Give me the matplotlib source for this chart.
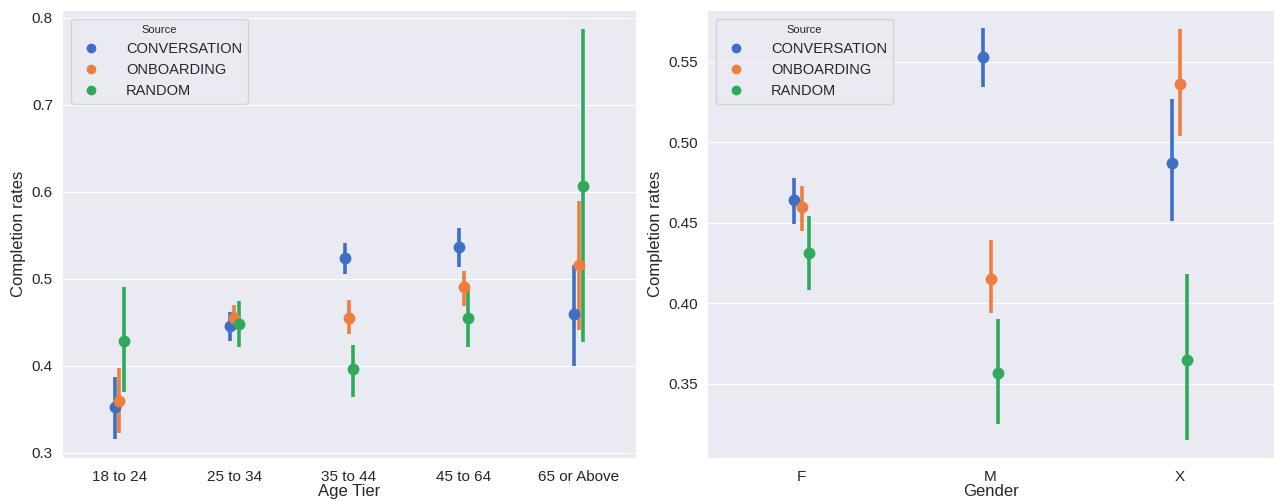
import numpy as np
import matplotlib
matplotlib.use("Agg")
import matplotlib.pyplot as plt
from matplotlib.lines import Line2D
import seaborn as sns

sns.set_style("darkgrid")
plt.rcParams['font.family'] = ['Liberation Sans', 'DejaVu Sans']

sources = ["CONVERSATION", "ONBOARDING", "RANDOM"]
colors = ["#3d6fc5", "#ee7e3e", "#2eaa5a"]

# Age tier panel: mean, lower CI, upper CI per source
age_tiers = ["18 to 24", "25 to 34", "35 to 44", "45 to 64", "65 or Above"]
age_mean = {
    "CONVERSATION": [0.353, 0.446, 0.524, 0.536, 0.459],
    "ONBOARDING":   [0.360, 0.455, 0.455, 0.490, 0.516],
    "RANDOM":       [0.429, 0.448, 0.396, 0.455, 0.607],
}
age_low = {
    "CONVERSATION": [0.316, 0.429, 0.505, 0.513, 0.400],
    "ONBOARDING":   [0.323, 0.441, 0.436, 0.469, 0.441],
    "RANDOM":       [0.370, 0.422, 0.364, 0.422, 0.427],
}
age_high = {
    "CONVERSATION": [0.387, 0.462, 0.541, 0.558, 0.516],
    "ONBOARDING":   [0.397, 0.470, 0.476, 0.509, 0.590],
    "RANDOM":       [0.491, 0.475, 0.424, 0.487, 0.787],
}

# Gender panel
genders = ["F", "M", "X"]
gen_mean = {
    "CONVERSATION": [0.464, 0.553, 0.487],
    "ONBOARDING":   [0.460, 0.415, 0.536],
    "RANDOM":       [0.431, 0.357, 0.365],
}
gen_low = {
    "CONVERSATION": [0.449, 0.534, 0.451],
    "ONBOARDING":   [0.445, 0.394, 0.504],
    "RANDOM":       [0.408, 0.325, 0.315],
}
gen_high = {
    "CONVERSATION": [0.478, 0.571, 0.527],
    "ONBOARDING":   [0.473, 0.439, 0.570],
    "RANDOM":       [0.454, 0.390, 0.418],
}

fig = plt.figure(figsize=(12.76, 5.01), dpi=100)
ax1 = fig.add_axes([62/1276, 43/501, 574/1276, 448/501])
ax2 = fig.add_axes([707/1276, 43/501, 567/1276, 448/501])


def draw(ax, cats, mean, low, high, xlabel):
    x = np.arange(len(cats))
    offsets = np.linspace(0, 0.075, len(sources)) - 0.0375
    for s, c, off in zip(sources, colors, offsets):
        m = np.array(mean[s])
        lo = m - np.array(low[s])
        hi = np.array(high[s]) - m
        ax.errorbar(x + off, m, yerr=[lo, hi], fmt='o', color=c, ms=7.5,
                    elinewidth=2.6, capsize=0)
    ax.set_xticks(x)
    ax.set_xticklabels(cats)
    ax.set_xlim(-0.5, len(cats) - 0.5)
    ax.xaxis.grid(False)
    ax.set_xlabel(xlabel, fontsize=12, labelpad=0)
    ax.set_ylabel("Completion rates", fontsize=12)
    ax.tick_params(axis='x', labelsize=11, pad=5)
    ax.tick_params(axis='y', labelsize=11, pad=3)
    handles = [Line2D([], [], ls='', marker='o', ms=6, color=c) for c in colors]
    ax.legend(handles, sources, title="Source", loc="upper left", fontsize=10.5,
              title_fontsize=8, handletextpad=1.4, borderaxespad=0.6, frameon=True)


draw(ax1, age_tiers, age_mean, age_low, age_high, "Age Tier")
ax1.set_ylim(0.294, 0.809)
ax1.set_yticks([0.3, 0.4, 0.5, 0.6, 0.7, 0.8])

draw(ax2, genders, gen_mean, gen_low, gen_high, "Gender")
ax2.set_ylim(0.304, 0.582)
ax2.set_yticks([0.35, 0.40, 0.45, 0.50, 0.55])
ax2.set_yticklabels(["0.35", "0.40", "0.45", "0.50", "0.55"])

fig.savefig("out.png", dpi=100)
